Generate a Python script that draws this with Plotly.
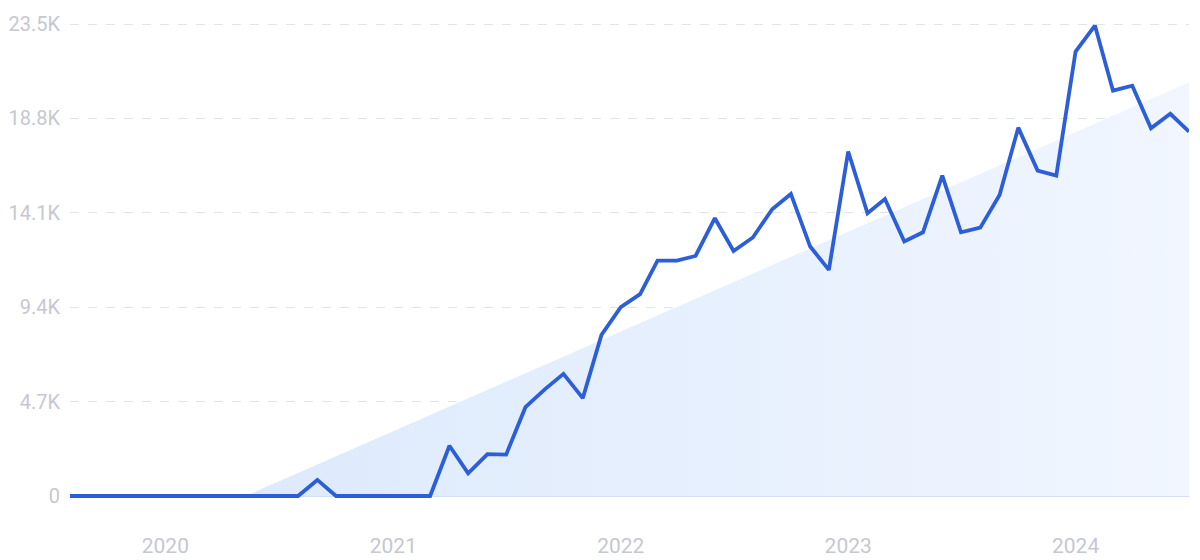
import pandas as pd
import plotly.graph_objects as go

# ---- data ----
months = pd.date_range("2019-08-01", periods=60, freq="MS")
values = [0, 0, 0, 0, 0, 0, 0, 0, 0, 0, 0, 0, 0, 800,
          0, 0, 0, 0, 0, 0,
          2500, 1130, 2080, 2060, 4420, 5310, 6080, 4870, 8020, 9400,
          10050, 11720, 11720, 11950, 13830, 12200, 12870, 14280, 15040, 12420,
          11260, 17150, 14080, 14790, 12670, 13130, 15950, 13130, 13360, 14990,
          18340, 16200, 15950, 22130, 23420, 20180, 20430, 18310, 19030, 18140]

trend_x = ["2020-05-09", "2024-07-01"]
trend_y = [0, 20600]

y_tickvals = [0, 4700, 9400, 14100, 18800, 23500]
y_ticktext = ["0", "4.7K", "9.4K", "14.1K", "18.8K", "23.5K"]
x_tickvals = ["2020-01-01", "2021-01-01", "2022-01-01", "2023-01-01", "2024-01-01"]
x_ticktext = ["2020", "2021", "2022", "2023", "2024"]

fig = go.Figure()

fig.add_trace(go.Scatter(
    x=trend_x, y=trend_y, mode="lines",
    line=dict(width=0, color="rgba(0,0,0,0)"),
    fill="tozeroy",
    fillgradient=dict(type="horizontal",
                      colorscale=[[0, "rgb(221,234,252)"], [1, "rgb(241,246,255)"]]),
    hoverinfo="skip", showlegend=False,
))

fig.add_trace(go.Scatter(
    x=months, y=values, mode="lines",
    line=dict(color="#2c5fd7", width=3.8),
    hoverinfo="skip", showlegend=False,
))

# page body has an 8px margin, so the figure is sized/offset to compensate
fig.update_layout(
    width=1192, height=552,
    margin=dict(l=62, r=11, t=6, b=54),
    paper_bgcolor="white", plot_bgcolor="white",
    font=dict(family="Roboto, sans-serif", color="#c6c8d0", size=20),
    showlegend=False,
)

fig.update_xaxes(
    range=[months[0], months[-1]],
    tickvals=x_tickvals, ticktext=x_ticktext,
    showgrid=False, zeroline=False, showline=False,
    ticks="", ticklabelstandoff=25, automargin=False,
    tickfont=dict(size=21, color="#c6c8d0"),
)

fig.update_yaxes(
    range=[-498, 23998],
    tickvals=y_tickvals, ticktext=y_ticktext,
    showgrid=True, gridcolor="#dfe5ef", griddash="dash", gridwidth=1,
    zeroline=True, zerolinecolor="#d3e0f5", zerolinewidth=1.5,
    showline=False, ticks="", ticklabelstandoff=9, automargin=False,
    tickfont=dict(size=20, color="#c6c8d0"),
)

fig.write_html("out.html")
